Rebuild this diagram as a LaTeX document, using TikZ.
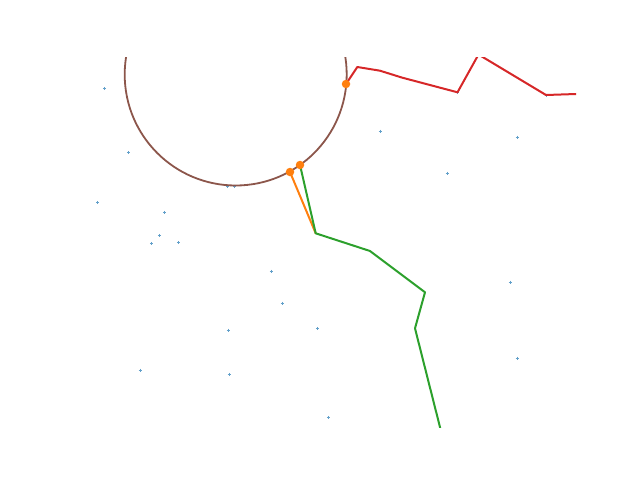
\documentclass[tikz,border=0pt]{standalone}
\usepackage{xcolor}
\usepackage{tikz}

\definecolor{tabblue}{HTML}{1F77B4}
\definecolor{taborange}{HTML}{FF7F0E}
\definecolor{tabgreen}{HTML}{2CA02C}
\definecolor{tabred}{HTML}{D62728}
\definecolor{tabbrown}{HTML}{8C564B}

\begin{document}
\begin{tikzpicture}[
    x=1pt, y=-1pt,
    trace/.style={line width=2pt, line join=round, line cap=round},
    sample/.style={tabblue!70, line width=0.6pt},
    hit/.style={circle, fill=taborange, inner sep=0pt, minimum size=8.5pt},
]
\useasboundingbox (0,0) rectangle (640,480);
\begin{scope}
\clip (80,57.6) rectangle (576,427.2);

% scattered samples
\foreach \px/\py in {104.3/88.3, 128.3/152.3, 97.3/202.3, 164.3/212.3, 159.3/235.3,
    151.3/243.3, 178.3/242.3, 227/186, 234/186, 380/131, 517/137, 447/173,
    271/271, 282/303, 228/330, 317.3/328.3, 510/282, 517/358, 140/370,
    229/374, 328.3/417.3, 457.5/92.3, 546/95}
  \draw[sample] (\px-1.5,\py) -- (\px+1.5,\py) (\px,\py-1.5) -- (\px,\py+1.5);

% ring
\coordinate (ctr) at (235.7,74.5);
\draw[tabbrown, line width=1.8pt] (ctr) circle[radius=111];

% crossing points
\coordinate (h1) at (346,84);
\coordinate (h2) at (300,165);
\coordinate (h3) at (290,172);

% red path
\coordinate (r1) at (357.3,67);
\coordinate (r2) at (380,70.7);
\coordinate (r3) at (402,77.6);
\coordinate (r4) at (457.5,92.3);
\coordinate (r5) at (478.5,54.5);
\coordinate (r6) at (546,95);
\coordinate (r7) at (600,93.2);
\draw[trace, tabred] (h1) -- (r1) -- (r2) -- (r3) -- (r4) -- (r5) -- (r6) -- (r7);

% green path
\coordinate (g1) at (315.7,233.3);
\coordinate (g2) at (370,251);
\coordinate (g3) at (425,292.3);
\coordinate (g4) at (415,328.3);
\coordinate (g5) at (445,447);
\draw[trace, taborange] (h3) -- (g1);
\draw[trace, tabgreen] (h2) -- (g1) -- (g2) -- (g3) -- (g4) -- (g5);

\node[hit] (p1) at (h1) {};
\node[hit] (p2) at (h2) {};
\node[hit] (p3) at (h3) {};
\end{scope}
\end{tikzpicture}
\end{document}
